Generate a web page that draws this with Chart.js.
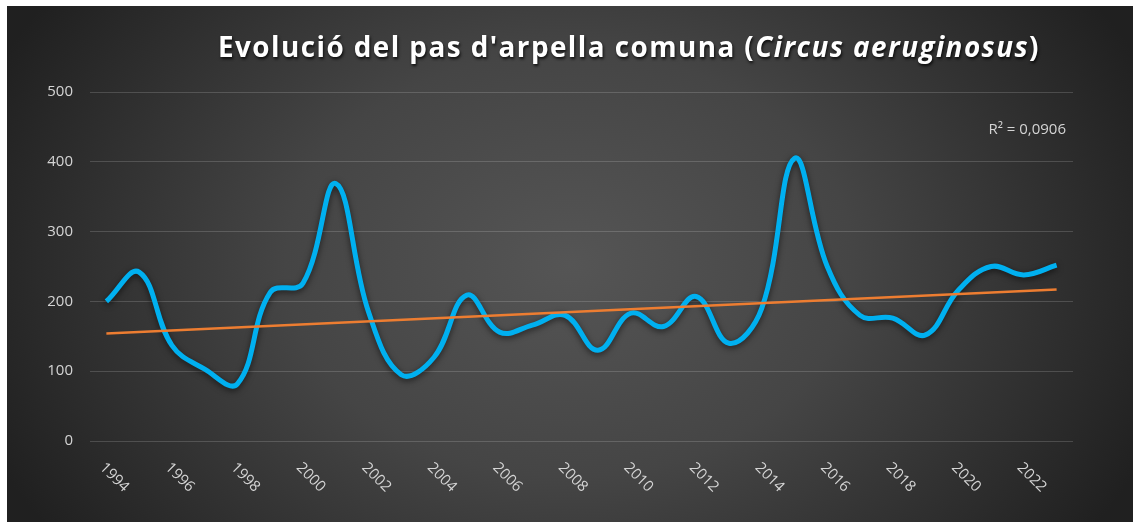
<!DOCTYPE html>
<html>
<head>
<meta charset="utf-8">
<script src="https://cdn.jsdelivr.net/npm/chart.js@4/dist/chart.umd.min.js"></script>
<style>
    html, body { margin: 0; padding: 0; background: #ffffff; }
    #wrap { position: absolute; left: 7px; top: 6px; width: 1126px; height: 516px; }
</style>
</head>
<body>
<div id="wrap"><canvas id="pasCanvas"></canvas></div>
<script>

var anys = ['1994', '1995', '1996', '1997', '1998', '1999', '2000', '2001', '2002', '2003',
    '2004', '2005', '2006', '2007', '2008', '2009', '2010', '2011', '2012', '2013',
    '2014', '2015', '2016', '2017', '2018', '2019', '2020', '2021', '2022', '2023'];

// individus comptats per any
var arpelles = [200, 242, 137, 103, 82, 213, 226, 369, 185, 95,
    120, 209, 156, 166, 180, 130, 183, 164, 207, 140,
    190, 405, 250, 180, 176, 152, 216, 250, 238, 252];

// linia de tendencia (valor al primer i a l'ultim any)
var tendenciaAnys = ['1994', '2023'];
var tendencia = [154, 217];

var r2Text = 'R\u00b2 = 0,0906';

var titolParts = [
    { text: "Evolució del pas d'arpella comuna (", italic: false },
    { text: 'Circus aeruginosus', italic: true },
    { text: ')', italic: false }
];

var textColor = '#d4d4d4';

function $each(arr, fn) {
    for (var i = 0; i < arr.length; i++) fn(i, arr[i]);
}

var fonsPlugin = {
    id: 'fons',
    beforeDraw: function (chart) {
        var ctx = chart.ctx;
        var w = chart.width, h = chart.height;
        ctx.save();
        ctx.fillStyle = '#202020';
        ctx.fillRect(0, 0, w, h);
        ctx.translate(w * 0.5, h * 0.5);
        ctx.scale(1, 0.75);
        var g = ctx.createRadialGradient(0, 0, 0, 0, 0, w * 0.56);
        g.addColorStop(0, '#555555');
        g.addColorStop(0.45, '#454545');
        g.addColorStop(1, '#202020');
        ctx.fillStyle = g;
        ctx.fillRect(-w, -h * 1.5, w * 2, h * 3);
        ctx.restore();
    }
};

var ombraPlugin = {
    id: 'ombra',
    beforeDatasetDraw: function (chart, args) {
        var ctx = chart.ctx;
        ctx.save();
        if (args.index === 0) {
            ctx.shadowColor = 'rgba(0,0,0,0.6)';
            ctx.shadowBlur = 6;
            ctx.shadowOffsetY = 2;
        }
    },
    afterDatasetDraw: function (chart) {
        chart.ctx.restore();
    }
};

var textosPlugin = {
    id: 'textos',
    afterDraw: function (chart) {
        var ctx = chart.ctx;
        var area = chart.chartArea;
        var x = chart.scales.x;

        // titol
        ctx.save();
        ctx.textBaseline = 'alphabetic';
        ctx.fillStyle = '#ffffff';
        ctx.shadowColor = 'rgba(0,0,0,0.8)';
        ctx.shadowBlur = 3;
        ctx.shadowOffsetX = 1;
        ctx.shadowOffsetY = 2;
        ctx.letterSpacing = '1.5px';
        var widths = [];
        var total = 0;
        $each(titolParts, function (i, p) {
            ctx.font = (p.italic ? 'italic ' : '') + 'bold 29px "Open Sans"';
            var wd = ctx.measureText(p.text).width;
            widths.push(wd);
            total += wd;
        });
        var sx = 822 / total;
        ctx.translate(211, 51);
        ctx.scale(sx, 1);
        var cx = 0;
        $each(titolParts, function (i, p) {
            ctx.font = (p.italic ? 'italic ' : '') + 'bold 29px "Open Sans"';
            ctx.fillText(p.text, cx, 0);
            cx += widths[i];
        });
        ctx.restore();

        // R2
        ctx.save();
        ctx.font = '15px "Open Sans"';
        ctx.fillStyle = textColor;
        ctx.textAlign = 'right';
        ctx.textBaseline = 'alphabetic';
        ctx.fillText(r2Text, area.right - 7, area.top + 42);
        ctx.restore();

        // etiquetes de l'eix X, girades 45 graus
        ctx.save();
        ctx.font = '15px "Open Sans"';
        ctx.fillStyle = textColor;
        ctx.textAlign = 'left';
        ctx.textBaseline = 'top';
        $each(anys, function (i, item) {
            if (i % 2 !== 0) return;
            var px = x.getPixelForValue(i);
            ctx.save();
            ctx.translate(px + 1, area.bottom + 19);
            ctx.rotate(Math.PI / 4);
            ctx.fillText(item, 0, 0);
            ctx.restore();
        });
        ctx.restore();
    }
};

var tendenciaPunts = [];
$each(tendenciaAnys, function (i, item) {
    tendenciaPunts.push({ x: item, y: tendencia[i] });
});

var ctx = document.getElementById('pasCanvas').getContext('2d');
new Chart(ctx, {
    type: 'line',
    data: {
        labels: anys,
        datasets: [{
            label: 'Arpella comuna',
            data: arpelles,
            borderColor: '#00b0f0',
            borderWidth: 5,
            tension: 0.4,
            pointRadius: 0,
            fill: false,
            order: 1
        }, {
            label: 'Tendència',
            data: tendenciaPunts,
            borderColor: '#ed7d31',
            borderWidth: 2.5,
            tension: 0,
            pointRadius: 0,
            fill: false,
            order: 0
        }]
    },
    options: {
        responsive: true,
        maintainAspectRatio: false,
        animation: false,
        layout: { padding: { top: 86, right: 60, left: 0, bottom: 0 } },
        plugins: {
            legend: { display: false },
            title: { display: false },
            tooltip: { enabled: false }
        },
        scales: {
            x: {
                type: 'category',
                offset: true,
                grid: { display: false },
                border: { display: false },
                ticks: { display: false },
                afterFit: function (scale) { scale.height = 81; }
            },
            y: {
                min: 0,
                max: 500,
                ticks: {
                    stepSize: 100,
                    padding: 17,
                    color: textColor,
                    font: { family: '"Open Sans"', size: 15 }
                },
                grid: { color: 'rgba(255,255,255,0.16)', lineWidth: 1, drawTicks: false },
                border: { display: false },
                afterFit: function (scale) { scale.width = 83; }
            }
        }
    },
    plugins: [fonsPlugin, ombraPlugin, textosPlugin]
});
</script>
</body>
</html>
